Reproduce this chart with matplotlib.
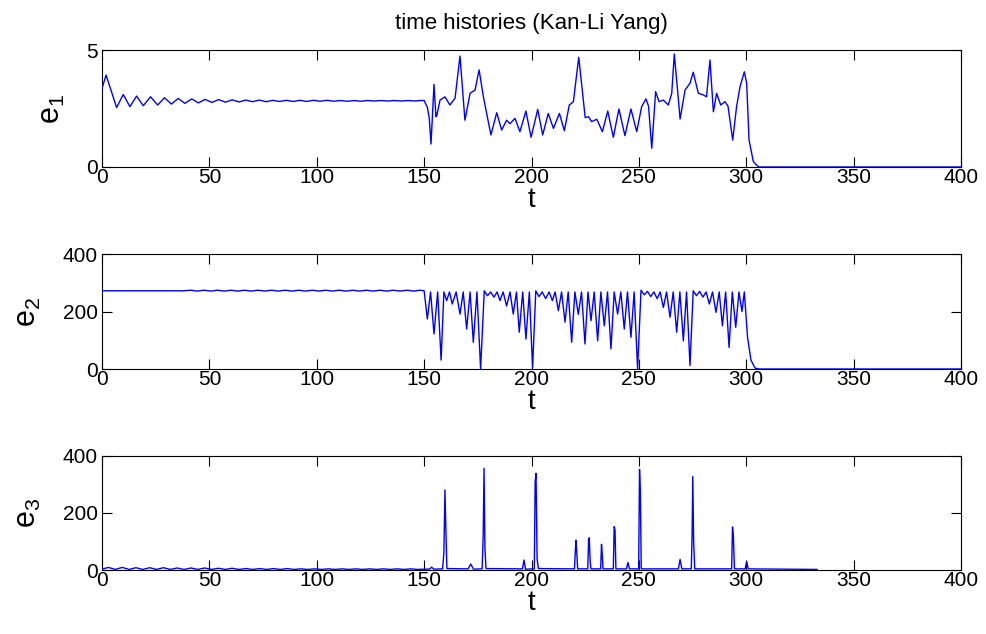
import matplotlib
matplotlib.use("Agg")
import matplotlib.pyplot as plt

plt.rcParams['font.family'] = ['Liberation Sans', 'DejaVu Sans']
plt.rcParams['mathtext.default'] = 'regular'

# ---------------- e1 (t, value) ----------------
e1_t = [0.0, 1.9, 6.8, 9.9, 13.0, 16.1, 19.2, 22.6, 25.9, 29.1, 32.3, 35.5, 38.6, 41.8, 44.9,
        48.0, 51.2, 54.3, 57.5, 60.6, 63.8, 66.9, 70.1, 73.2, 76.4, 79.5, 82.7, 85.8, 89.0,
        92.1, 95.3, 98.4, 101.6, 104.7, 107.9, 111.0, 114.2, 117.3, 120.5, 123.6, 126.8,
        129.9, 133.1, 136.2, 139.4, 142.5, 145.7, 148.1,
        150.0, 151.5, 152.4, 153.2, 154.6, 155.5, 155.9, 157.4, 159.7, 162.0, 164.4, 166.7,
        169.0, 171.4, 173.7, 175.6, 177.6, 181.1, 183.8, 186.1, 188.4, 190.0, 192.3, 194.6,
        197.4, 199.8, 202.9, 205.2, 207.8, 210.2, 213.0, 215.3, 217.6, 219.5, 222.0, 225.0,
        226.5, 228.0, 230.4, 233.0, 235.5, 238.1, 240.7, 243.5, 246.3, 249.0, 251.3, 253.3,
        254.5, 256.0, 257.8, 259.4, 261.4, 263.7, 265.3, 266.5, 269.2, 271.5, 273.8, 275.3,
        277.7, 280.0, 281.5, 283.1, 284.7, 286.2, 288.1, 290.1, 291.5, 293.7, 295.5, 297.1,
        299.1, 300.2, 301.3, 303.3, 304.8, 306.0, 400.0]
e1_v = [3.36, 3.93, 2.54, 3.10, 2.58, 3.03, 2.62, 3.00, 2.65, 2.96, 2.69, 2.93, 2.72, 2.91, 2.74,
        2.89, 2.76, 2.88, 2.77, 2.87, 2.78, 2.86, 2.79, 2.86, 2.79, 2.85, 2.80, 2.85, 2.80,
        2.85, 2.80, 2.85, 2.81, 2.85, 2.81, 2.84, 2.81, 2.84, 2.81, 2.84, 2.82, 2.84, 2.82,
        2.84, 2.82, 2.84, 2.82, 2.84,
        2.84, 2.55, 2.08, 0.98, 3.53, 2.15, 2.20, 2.86, 3.00, 2.65, 2.94, 4.74,
        2.00, 3.15, 3.29, 4.15, 3.00, 1.37, 2.32, 1.58, 2.00, 1.85, 2.08, 1.51,
        2.39, 1.27, 2.46, 1.37, 2.29, 1.65, 2.29, 1.55, 2.65, 2.79, 4.69, 2.11,
        2.15, 1.94, 2.04, 1.51, 2.39, 1.27, 2.48, 1.34, 2.48, 1.51, 2.58, 2.91,
        2.60, 0.80, 3.22, 2.79, 2.86, 2.65, 3.15, 4.83, 2.05, 3.29, 3.58, 4.05,
        3.15, 3.08, 3.00, 4.57, 2.36, 3.15, 2.65, 2.79, 2.60, 1.15, 2.58, 3.43,
        4.07, 3.58, 1.15, 0.23, 0.08, 0.0, 0.0]

# ---------------- e2 (t, value) ----------------
e2_t = [0.0, 38.0, 41.2, 44.3, 47.5, 50.6, 53.8, 56.9, 60.1, 63.2, 66.4, 69.5, 72.7, 75.8,
        79.0, 82.1, 85.3, 88.4, 91.6, 94.7, 97.9, 101.0, 104.2, 107.3, 110.5, 113.6, 116.8,
        119.9, 123.1, 126.2, 129.4, 132.5, 135.7, 138.8, 142.0, 145.1, 148.3, 150.0,
        151.5, 153.0, 154.6, 156.3, 157.9, 159.2, 160.5, 161.8, 163.1, 164.9, 166.7, 168.2,
        169.8, 171.4, 172.9, 174.6, 176.3, 178.0, 179.5, 181.0, 182.5, 184.0, 185.3, 186.8,
        188.4, 190.0, 191.5, 193.0, 194.3, 195.9, 197.4, 199.0, 200.5, 202.0, 203.5, 205.0,
        206.6, 208.2, 209.7, 211.0, 212.5, 214.0, 215.6, 217.1, 218.7, 220.2, 221.8, 223.3,
        224.9, 226.3, 227.7, 229.2, 230.8, 232.3, 233.9, 235.4, 237.0, 238.5, 240.1, 241.6,
        243.2, 244.7, 246.3, 247.8, 249.4, 251.0, 252.5, 254.0, 255.5, 257.0, 258.5, 259.9,
        261.4, 262.9, 264.5, 266.0, 267.6, 269.1, 270.7, 272.2, 273.8, 275.3, 276.8, 278.3,
        279.8, 281.3, 282.8, 284.3, 285.9, 287.4, 288.9, 290.4, 292.0, 293.5, 295.1, 296.6,
        298.0, 299.1, 300.6, 302.2, 304.1, 306.0, 400.0]
e2_v = [272, 272, 274, 271, 274, 271, 274, 271, 274, 271, 274, 271, 274, 271,
        274, 271, 274, 271, 274, 271, 274, 271, 274, 271, 274, 271, 274,
        271, 274, 271, 274, 271, 274, 271, 274, 271, 274, 272,
        174, 268, 122, 268, 31, 268, 238, 268, 226, 268, 191, 268,
        139, 268, 93, 268, 0, 272, 255, 268, 250, 268, 238, 268,
        219, 268, 191, 268, 128, 268, 104, 268, 4, 272, 252, 268,
        245, 268, 238, 268, 203, 268, 163, 268, 93, 268, 190, 268,
        87, 268, 168, 268, 98, 268, 150, 268, 70, 268, 191, 268,
        139, 268, 110, 268, 0, 274, 258, 270, 252, 268, 245, 268,
        214, 268, 180, 268, 128, 268, 98, 268, 12, 272, 255, 270,
        250, 268, 226, 268, 197, 268, 150, 268, 75, 268, 145, 268,
        200, 268, 110, 31, 3, 0, 0]

# ---------------- e3 (t, value) ----------------
e3_t = [0.0, 3.0, 6.2, 9.4, 12.6, 15.8, 19.0, 22.2, 25.4, 28.6, 31.8, 35.0, 38.2, 41.4,
        44.6, 47.8, 51.0, 54.2, 57.4, 60.6, 63.8, 67.0, 70.2, 73.4, 76.6, 79.8, 83.0, 86.2,
        89.4, 92.6, 95.8, 99.0, 102.2, 105.4, 108.6, 111.8, 115.0, 118.2, 121.4, 124.6,
        127.8, 131.0, 134.2, 137.4, 140.6, 143.8, 147.0, 150.0,
        152.5, 153.5, 154.5, 158.6, 159.2, 159.7, 160.1, 160.6, 170.5, 171.7, 173.0,
        177.0, 177.5, 177.9, 178.3, 178.8, 195.8, 196.5, 197.2, 201.3, 201.7, 202.1,
        202.6, 203.2, 220.0, 220.5, 220.7, 221.1, 221.5, 226.2, 226.6, 226.9, 227.3,
        227.7, 232.2, 232.6, 232.9, 233.3, 238.1, 238.5, 238.9, 239.3, 244.2, 244.9,
        245.6, 249.9, 250.3, 250.7, 251.1, 268.4, 269.2, 270.0, 274.4, 274.8, 275.1,
        275.5, 276.0, 293.2, 293.6, 294.0, 294.5, 299.5, 300.2, 300.9, 333.0]
e3_v = [3, 9, 2, 9, 2, 8, 2, 8, 2, 8, 2, 7, 2, 7,
        2, 7, 2, 6, 2, 6, 2, 5, 2, 5, 2, 5, 2, 5,
        2, 4, 2, 4, 2, 4, 2, 4, 2, 4, 2, 4,
        2, 4, 2, 4, 2, 4, 2, 3,
        3, 10, 3, 4, 60, 281, 150, 5, 4, 21, 3,
        4, 120, 357, 80, 5, 4, 35, 3, 4, 310, 339,
        40, 5, 4, 80, 105, 60, 4, 4, 110, 113, 30,
        4, 4, 90, 60, 4, 4, 152, 140, 4, 4, 26,
        4, 4, 353, 270, 4, 4, 37, 4, 4, 130, 328,
        100, 4, 4, 151, 120, 4, 4, 30, 4, 2]

x_ticks = [0, 50, 100, 150, 200, 250, 300, 350, 400]
panels = [
    (e1_t, e1_v, r'$e_1$', [0, 5], [0, 5]),
    (e2_t, e2_v, r'$e_2$', [0, 400], [0, 200, 400]),
    (e3_t, e3_v, r'$e_3$', [0, 400], [0, 200, 400]),
]

W, H = 986, 634
fig = plt.figure(figsize=(W / 100, H / 100), dpi=100)
fig.patch.set_facecolor('white')

boxes = [(50, 167), (254, 369), (456, 570)]
left_px, right_px = 102, 961

axes = []
for (tt, vv, lab, ylim, yt), (top, bot) in zip(panels, boxes):
    ax = fig.add_axes([left_px / W, 1 - bot / H, (right_px - left_px) / W, (bot - top) / H])
    ax.plot(tt, vv, color='#0000ff', lw=1.0, zorder=3)
    ax.set_xlim(0, 400)
    ax.set_ylim(*ylim)
    ax.set_xticks(x_ticks)
    ax.set_yticks(yt)
    ax.tick_params(direction='in', length=7, width=0.8, top=True, right=True,
                   labelsize=15, colors='black')
    ax.tick_params(axis='x', pad=1)
    ax.tick_params(axis='y', pad=3)
    for s in ax.spines.values():
        s.set_linewidth(0.8)
        s.set_color('black')
    ax.set_xlabel('t', fontsize=20, labelpad=0)
    ax.set_ylabel(lab, fontsize=22, labelpad=14)
    axes.append(ax)

axes[0].set_title('time histories (Kan-Li Yang)', fontsize=16, pad=15)

fig.savefig('out.png', dpi=100)
